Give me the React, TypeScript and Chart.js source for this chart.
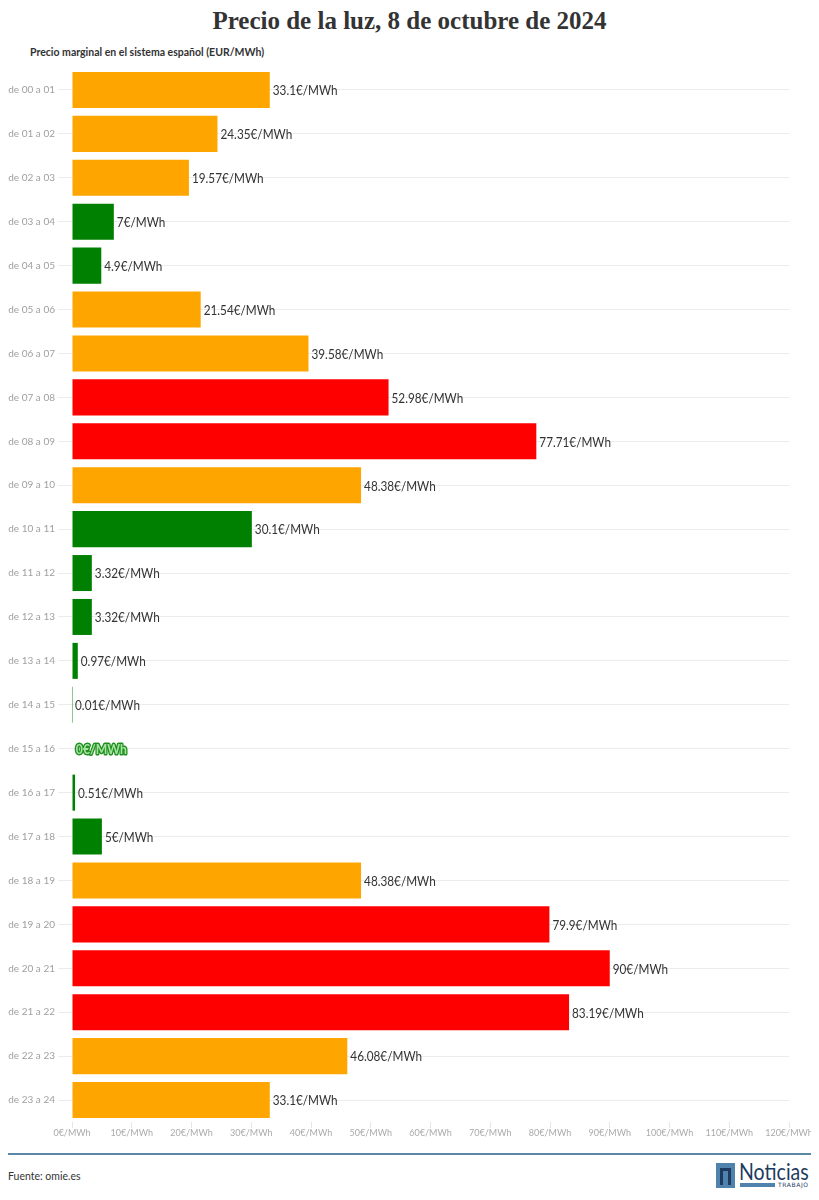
import React, { useEffect, useRef } from "react";
import { Chart, registerables } from "chart.js";

Chart.register(...registerables);

const hours = [
  "de 00 a 01", "de 01 a 02", "de 02 a 03", "de 03 a 04", "de 04 a 05", "de 05 a 06",
  "de 06 a 07", "de 07 a 08", "de 08 a 09", "de 09 a 10", "de 10 a 11", "de 11 a 12",
  "de 12 a 13", "de 13 a 14", "de 14 a 15", "de 15 a 16", "de 16 a 17", "de 17 a 18",
  "de 18 a 19", "de 19 a 20", "de 20 a 21", "de 21 a 22", "de 22 a 23", "de 23 a 24",
];

const prices = [
  33.1, 24.35, 19.57, 7, 4.9, 21.54,
  39.58, 52.98, 77.71, 48.38, 30.1, 3.32,
  3.32, 0.97, 0.01, 0, 0.51, 5,
  48.38, 79.9, 90, 83.19, 46.08, 33.1,
];

const tiers = [
  "medio", "medio", "medio", "bajo", "bajo", "medio",
  "medio", "alto", "alto", "medio", "bajo", "bajo",
  "bajo", "bajo", "bajo", "bajo", "bajo", "bajo",
  "medio", "alto", "alto", "alto", "medio", "medio",
];

const tierColors: Record<string, string> = {
  bajo: "#008000",
  medio: "#FFA500",
  alto: "#FF0000",
};

const xTicks = [0, 10, 20, 30, 40, 50, 60, 70, 80, 90, 100, 110, 120];

const fmt = (v: number) => `${v}€/MWh`;

const valueLabels = {
  id: "valueLabels",
  afterDatasetsDraw(chart: any) {
    const ctx = chart.ctx;
    const meta = chart.getDatasetMeta(0);
    meta.data.forEach((bar: any, i: number) => {
      const v = prices[i];
      const text = fmt(v);
      ctx.save();
      ctx.textBaseline = "middle";
      ctx.textAlign = "left";
      ctx.translate(bar.x + 3, bar.y + 1);
      ctx.scale(0.87, 1);
      if (v === 0) {
        ctx.font = "bold 14px Lato";
        ctx.lineJoin = "round";
        ctx.lineWidth = 3;
        ctx.strokeStyle = "#1f8f1f";
        ctx.strokeText(text, 1, 0);
        ctx.fillStyle = "#a6e3a0";
        ctx.fillText(text, 1, 0);
      } else {
        ctx.font = "13.5px Lato";
        ctx.fillStyle = "#333333";
        ctx.fillText(text, 0, 0);
      }
      ctx.restore();
    });
  },
};

function PriceChart() {
  const ref = useRef<HTMLCanvasElement>(null);
  useEffect(() => {
    if (!ref.current) return;
    const chart = new Chart(ref.current, {
      type: "bar",
      data: {
        labels: hours,
        datasets: [
          {
            data: prices,
            backgroundColor: tiers.map((t) => tierColors[t]),
            borderWidth: 0,
            barPercentage: 0.82,
            categoryPercentage: 1,
          },
        ],
      },
      options: {
        indexAxis: "y",
        animation: false,
        responsive: false,
        maintainAspectRatio: false,
        layout: { padding: { top: 5, right: 22, left: 0, bottom: 0 } },
        plugins: {
          legend: { display: false },
          tooltip: { enabled: false },
          title: { display: false },
        },
        scales: {
          x: {
            min: 0,
            max: 120,
            afterBuildTicks: (scale: any) => {
              scale.ticks = xTicks.map((v) => ({ value: v }));
            },
            afterFit: (scale: any) => {
              scale.height = 24;
              scale.paddingRight = 0;
              scale.paddingLeft = 0;
            },
            border: { display: false },
            grid: {
              drawOnChartArea: false,
              drawTicks: true,
              tickLength: 6,
              color: "#e6e6e6",
            },
            ticks: {
              padding: 0,
              color: "#aaaaaa",
              font: { family: "Lato", size: 9 },
              callback: (v: any) => fmt(v),
              maxRotation: 0,
              autoSkip: false,
            },
          },
          y: {
            afterFit: (scale: any) => {
              scale.width = 64;
            },
            border: { display: false },
            grid: {
              color: "#ececec",
              drawTicks: true,
              tickLength: 14,
              offset: false,
            },
            ticks: {
              padding: 3,
              color: "#a0a0a0",
              font: { family: "Lato", size: 10 },
              autoSkip: false,
            },
          },
        },
      },
      plugins: [valueLabels],
    });
    return () => chart.destroy();
  }, []);
  return <canvas ref={ref} width={803} height={1087} style={{ display: "block" }} />;
}

export default function App() {
  return (
    <div style={{ width: 803, fontFamily: "Lato, sans-serif", color: "#333" }}>
      <div
        style={{
          height: 37,
          textAlign: "center",
          fontFamily: "'Liberation Serif', serif",
          fontWeight: "bold",
          fontSize: 25,
          lineHeight: "26px",
          paddingTop: 0,
          boxSizing: "border-box",
          color: "#333",
        }}
      >
        Precio de la luz, 8 de octubre de 2024
      </div>
      <div
        style={{
          height: 14,
          paddingLeft: 22,
          fontSize: 10.5,
          fontWeight: "bold",
          lineHeight: "14px",
          color: "#333",
        }}
      >
        Precio marginal en el sistema español (EUR/MWh)
      </div>
      <PriceChart />
      <div style={{ height: 7 }} />
      <div style={{ height: 2, background: "#5a88a6" }} />
      <div style={{ position: "relative", height: 40 }}>
        <div style={{ position: "absolute", left: 0, top: 15, fontSize: 10.5, color: "#333" }}>
          Fuente: omie.es
        </div>
        <div style={{ position: "absolute", right: 0, top: 8, width: 95, height: 28 }}>
          <div
            style={{
              position: "absolute",
              left: 0,
              top: 0,
              width: 19,
              height: 25,
              background: "#4f83ad",
            }}
          >
            <div
              style={{
                position: "absolute",
                left: 4,
                top: 5,
                width: 11,
                height: 17,
                border: "3.5px solid #1d3b5e",
                borderBottom: "none",
                boxSizing: "border-box",
              }}
            />
          </div>
          <div
            style={{
              position: "absolute",
              left: 23,
              top: -5,
              fontFamily: "Lato, sans-serif",
              fontSize: 23,
              lineHeight: "26px",
              color: "#1d3b5e",
              transform: "scaleX(0.85)",
              transformOrigin: "left top",
              whiteSpace: "nowrap",
            }}
          >
            Noticias
          </div>
          <div
            style={{ position: "absolute", left: 24, top: 20, width: 35, height: 4, background: "#4f83ad" }}
          />
          <div
            style={{
              position: "absolute",
              left: 62,
              top: 17,
              fontSize: 6,
              lineHeight: "9px",
              letterSpacing: 0.6,
              color: "#1d3b5e",
              fontFamily: "'DejaVu Sans', sans-serif",
              whiteSpace: "nowrap",
            }}
          >
            TRABAJO
          </div>
        </div>
      </div>
    </div>
  );
}
